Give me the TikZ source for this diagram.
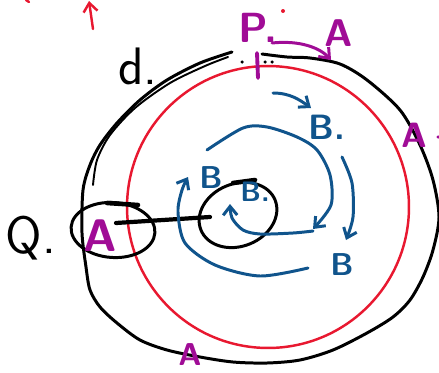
\documentclass[tikz,border=0pt]{standalone}
\usetikzlibrary{arrows.meta,shapes.geometric}
\definecolor{penred}{RGB}{232,24,48}
\definecolor{penmag}{RGB}{160,12,150}
\definecolor{penblue}{RGB}{16,84,140}
\tikzset{
  ink/.style={line width=1.7pt,line cap=round,line join=round},
  redink/.style={ink,penred,line width=1.4pt},
  blueink/.style={ink,penblue},
  magink/.style={ink,penmag},
  hand/.style={font=\sffamily\bfseries\fontsize{#1}{#1}\selectfont,inner sep=0pt},
  thinhand/.style={font=\sffamily\fontsize{#1}{#1}\selectfont,inner sep=0pt},
  barb/.style={-{Straight Barb[length=5pt,width=8pt]}}
}
\begin{document}
\begin{tikzpicture}[x=0.02cm,y=-0.02cm]
  \useasboundingbox (0,0) rectangle (439,372);
  \draw[redink] (268,207) circle[radius=2.82cm];
  \draw[ink] plot[smooth] coordinates {(262,54) (287,57) (310,58) (340,64) (367,80) (400,110) (420,145) (433,180) (439,217) (433,250) (423,277) (410,300) (393,317) (367,333) (333,350) (300,360) (267,363) (233,362) (200,357) (167,350) (140,340) (117,323) (100,307) (90,290) (86,267) (82,233) (83,190) (90,165) (100,145) (117,123) (140,100) (167,80) (200,63) (232,52)};
  \draw[ink,line width=1.1pt] plot[smooth] coordinates {(93,185) (97,160) (110,135) (135,108) (170,83) (205,66) (228,57)};
  \fill (242,62) circle[radius=0.035cm] (265,62) circle[radius=0.035cm] (272,62) circle[radius=0.035cm];
  \draw[magink,line width=2.2pt] (257,53) -- (258,78);
  \node[draw,ink,ellipse,minimum width=1.68cm,minimum height=1.1cm,rotate=-4] (qring) at (113,230) {};
  \node[draw,ink,ellipse,minimum width=1.6cm,minimum height=1.25cm,rotate=22] (bring) at (238,215) {};
  \draw[ink,line width=2.6pt] (107,203) -- (138,205);
  \draw[ink,line width=2.6pt] (233,183) -- (255,180);
  \coordinate (qend) at (116,223);
  \coordinate (bend) at (210,217);
  \draw[ink,line width=2.4pt] (qend) -- (bend);
  \node[thinhand=30] (q) at (31,238) {Q.};
  \node[hand=26,penmag] (aq) at (100,236) {A};
  \node[thinhand=30] (d) at (138,66) {d.};
  \node[hand=24,penmag] (p) at (258,28) {P.};
  \node[hand=22,penmag] (atop) at (339,33) {A};
  \node[hand=20,penmag] (aright) at (414,135) {A};
  \node[hand=18,penmag] (abot) at (190,355) {A};
  \fill[penmag] (438,137) circle[radius=0.035cm];
  \fill[penred] (283,11) circle[radius=0.04cm];
  \draw[redink,barb] (93,29) -- (89,1);
  \draw[redink] (26,0) -- (29,2);
  \draw[magink,barb] (272,43) .. controls (300,40) and (320,48) .. (331,60);
  \node[hand=20,penblue] (b1) at (327,127) {B.};
  \node[hand=16,penblue] (b2) at (255,192) {B.};
  \node[hand=18,penblue] (b3) at (211,178) {B};
  \node[hand=18,penblue] (b4) at (342,265) {B};
  \draw[blueink,barb] (273,93) .. controls (290,93) and (300,100) .. (311,108);
  \draw[blueink,barb] plot[smooth] coordinates {(207,150) (243,128) (267,127) (297,137) (317,150) (330,175) (331,205) (313,229)};
  \draw[blueink,barb] plot[smooth] coordinates {(313,231) (293,233) (260,234) (243,230) (232,218) (230,204)};
  \draw[blueink,barb] plot[smooth] coordinates {(342,157) (352,183) (353,217) (346,240)};
  \draw[blueink,barb] plot[smooth] coordinates {(308,268) (260,276) (215,265) (185,243) (178,212) (182,190) (188,177)};
\end{tikzpicture}
\end{document}
